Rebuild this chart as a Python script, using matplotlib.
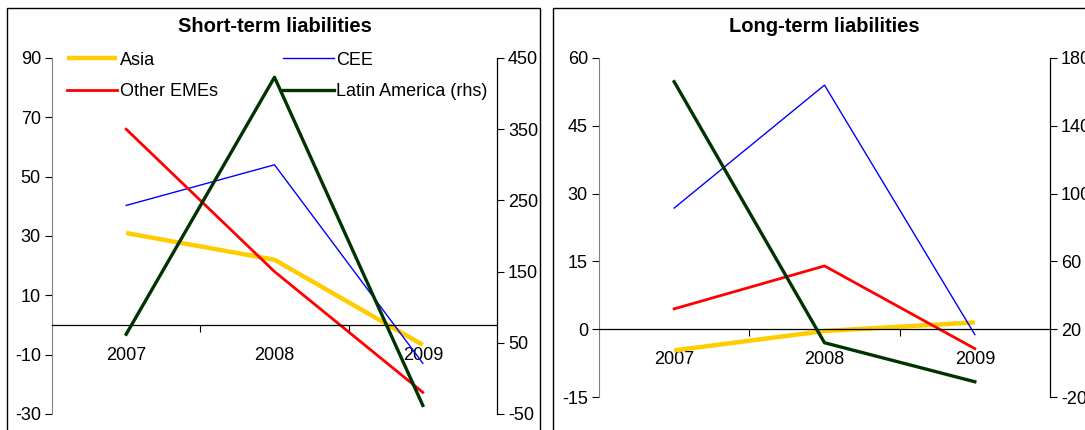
import matplotlib
matplotlib.use("Agg")
import matplotlib.pyplot as plt
from matplotlib.patches import Rectangle

plt.rcParams['font.family'] = ['Liberation Sans', 'DejaVu Sans']
plt.rcParams['axes.unicode_minus'] = False

years = ['2007', '2008', '2009']

# short-term liabilities
st_asia = [31, 22, -6.7]
st_cee = [40.3, 54, -12.9]
st_other = [66, 18, -22.7]
st_latam = [62, 423, -38]

# long-term liabilities
lt_asia = [-4.7, -0.4, 1.5]
lt_cee = [26.8, 54, -1.2]
lt_other = [4.5, 14, -4.3]
lt_latam = [166, 12, -11]

left_ticks_st = [-30, -10, 10, 30, 50, 70, 90]
right_ticks_st = [-50, 50, 150, 250, 350, 450]
left_ticks_lt = [-15, 0, 15, 30, 45, 60]
right_ticks_lt = [-20, 20, 60, 100, 140, 180]

c_asia = '#FFCC00'
c_cee = '#0000FF'
c_other = '#FF0000'
c_latam = '#003300'

W, H = 1085, 430
fig = plt.figure(figsize=(W / 100, H / 100), dpi=100)


def px(x0, y0, x1, y1):
    return [x0 / W, 1 - y1 / H, (x1 - x0) / W, (y1 - y0) / H]


# panel frames
for x0, x1 in [(7, 540), (553, 1095)]:
    fig.patches.append(Rectangle((x0 / W, -0.05), (x1 - x0) / W, 1 - 8 / H + 0.05,
                                 transform=fig.transFigure, fill=False,
                                 edgecolor='black', linewidth=1.0))


def panel(rect, title, asia, cee, other, latam, lt, rt, legend=False):
    ax = fig.add_axes(rect)
    xs = [0.5, 1.5, 2.5]
    l1, = ax.plot(xs, asia, color=c_asia, lw=3.2, solid_capstyle='butt')
    l2, = ax.plot(xs, cee, color=c_cee, lw=1.0)
    l3, = ax.plot(xs, other, color=c_other, lw=2.0)
    ax.set_xlim(0, 3)
    ax.set_ylim(lt[0], lt[-1])
    ax.set_yticks(lt)
    ax.set_xticks(xs)
    ax.set_xticklabels(years)
    ax.set_xticks([1, 2], minor=True)
    ax.tick_params(axis='x', which='major', length=0, pad=16, labelsize=13)
    ax.tick_params(axis='x', which='minor', length=5, direction='out', width=0.8)
    ax.tick_params(axis='y', length=5, direction='out', width=0.8, labelsize=13, pad=3)
    ax.spines['bottom'].set_position(('data', 0))
    ax.spines['bottom'].set_linewidth(0.9)
    ax.spines['top'].set_visible(False)
    ax.spines['right'].set_visible(False)
    ax.spines['left'].set_color('#808080')
    ax.patch.set_visible(False)

    ax2 = ax.twinx()
    l4, = ax2.plot(xs, latam, color=c_latam, lw=2.4)
    ax2.set_ylim(rt[0], rt[-1])
    ax2.set_yticks(rt)
    ax2.tick_params(axis='y', length=5, direction='out', width=0.8, labelsize=13, pad=3)
    for s in ['left', 'top', 'bottom']:
        ax2.spines[s].set_visible(False)
    ax2.spines['right'].set_linewidth(0.9)

    x0 = rect[0] + rect[2] / 2
    fig.text(x0, 1 - 26 / H, title, ha='center', va='center',
             fontsize=14.5, fontweight='bold')

    if legend:
        # row-major order: Asia, CEE / Other EMEs, Latin America
        ax2.legend([l1, l3, l2, l4], ['Asia', 'Other EMEs', 'CEE', 'Latin America (rhs)'],
                   ncol=2, loc='upper left', bbox_to_anchor=(0.017, 1.038),
                   frameon=False, fontsize=13, handlelength=2.8,
                   handletextpad=0.15, columnspacing=3.6, labelspacing=0.82,
                   borderaxespad=0)
    return ax, ax2


panel(px(52, 58, 497, 414), 'Short-term liabilities',
      st_asia, st_cee, st_other, st_latam, left_ticks_st, right_ticks_st, legend=True)
panel(px(599, 58, 1050, 397), 'Long-term liabilities',
      lt_asia, lt_cee, lt_other, lt_latam, left_ticks_lt, right_ticks_lt)

fig.savefig('out.png', dpi=100)
